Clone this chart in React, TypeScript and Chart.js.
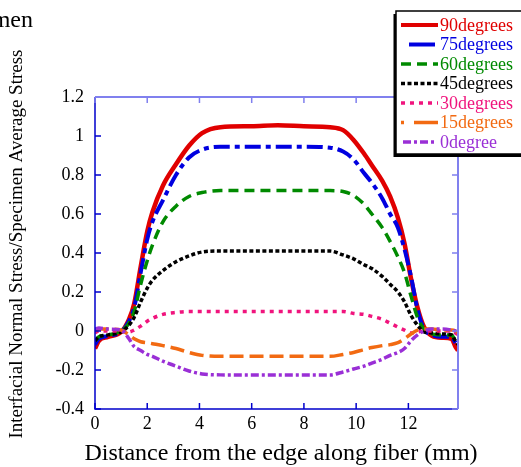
import React, { useEffect, useRef } from "react";
import { Chart, registerables } from "chart.js";

Chart.register(...registerables);

const distance = [0, 0.15, 0.5, 1.0, 1.3, 1.5, 1.75, 2.0, 2.2, 2.6, 3.1, 3.6, 4.1, 4.8, 6, 7, 8, 9, 9.5, 9.9, 10.3, 10.6, 11.0, 11.3, 11.6, 11.85, 12.1, 12.35, 12.6, 12.9, 13.3, 13.65, 13.8, 13.9];

const deg90 = [-0.09, -0.05, -0.03, -0.005, 0.06, 0.14, 0.33, 0.51, 0.61, 0.745, 0.855, 0.95, 1.015, 1.045, 1.05, 1.055, 1.05, 1.045, 1.03, 0.98, 0.91, 0.85, 0.77, 0.69, 0.58, 0.45, 0.27, 0.12, 0.02, -0.025, -0.035, -0.04, -0.08, -0.1];
const deg75 = [-0.07, -0.04, -0.025, -0.005, 0.05, 0.12, 0.3, 0.47, 0.56, 0.67, 0.8, 0.89, 0.93, 0.945, 0.945, 0.945, 0.945, 0.94, 0.92, 0.88, 0.81, 0.76, 0.68, 0.6, 0.53, 0.42, 0.28, 0.11, 0.01, -0.02, -0.03, -0.03, -0.06, -0.08];
const deg60 = [-0.05, -0.03, -0.02, 0.0, 0.04, 0.1, 0.24, 0.36, 0.44, 0.56, 0.64, 0.69, 0.71, 0.72, 0.72, 0.72, 0.72, 0.72, 0.715, 0.695, 0.65, 0.6, 0.53, 0.46, 0.38, 0.3, 0.18, 0.07, 0.01, -0.015, -0.02, -0.02, -0.05, -0.07];
const deg45 = [-0.05, -0.03, -0.02, -0.005, 0.03, 0.07, 0.15, 0.22, 0.26, 0.31, 0.355, 0.385, 0.405, 0.41, 0.41, 0.41, 0.41, 0.41, 0.39, 0.37, 0.34, 0.32, 0.28, 0.24, 0.2, 0.15, 0.08, 0.03, -0.005, -0.01, -0.015, -0.02, -0.05, -0.07];
const deg30 = [-0.01, 0.0, 0.0, 0.0, -0.005, 0.005, 0.025, 0.05, 0.065, 0.085, 0.095, 0.1, 0.1, 0.1, 0.1, 0.1, 0.1, 0.1, 0.1, 0.09, 0.085, 0.075, 0.06, 0.04, 0.02, 0.005, -0.01, -0.005, 0.0, 0.0, 0.0, 0.0, -0.01, -0.02];
const deg15 = [0.0, 0.01, 0.01, 0.005, -0.02, -0.04, -0.055, -0.06, -0.065, -0.075, -0.09, -0.11, -0.125, -0.13, -0.13, -0.13, -0.13, -0.13, -0.12, -0.11, -0.095, -0.085, -0.075, -0.07, -0.06, -0.04, -0.015, 0.005, 0.01, 0.01, 0.005, 0.005, 0.0, -0.01];
const deg0 = [0.01, 0.015, 0.01, 0.005, -0.04, -0.08, -0.1, -0.12, -0.13, -0.155, -0.18, -0.205, -0.22, -0.225, -0.225, -0.225, -0.225, -0.225, -0.21, -0.195, -0.18, -0.165, -0.145, -0.125, -0.11, -0.09, -0.05, -0.02, 0.0, 0.01, 0.01, 0.005, 0.0, -0.01];

const seriesNames = ["90degrees", "75degrees", "60degrees", "45degrees", "30degrees", "15degrees", "0degree"];
const xTickValues = [0, 2, 4, 6, 8, 10, 12];
const xTickLabels = ["0", "2", "4", "6", "8", "10", "12"];
const yTickValues = [-0.4, -0.2, 0, 0.2, 0.4, 0.6, 0.8, 1, 1.2];
const yTickLabels = ["-0.4", "-0.2", "0", "0.2", "0.4", "0.6", "0.8", "1", "1.2"];

const xTitle = "Distance from the edge along fiber (mm)";
const yTitle = "Interfacial Normal Stress/Specimen Average Stress";
const topTitle = "Specimen";

const seriesValues = [deg90, deg75, deg60, deg45, deg30, deg15, deg0];
const colors = ["#e00000", "#0000e0", "#008a00", "#000000", "#f0147d", "#f26a12", "#9a2fd6"];
const dashes: number[][] = [[], [16, 5, 5, 5], [10, 6], [4, 2.5], [4, 5], [14, 6], [8, 3, 3, 3]];
const widths = [4.5, 4, 3.5, 3.5, 3.5, 3.5, 3.5];
const legendDashes: number[][] = [[], [], [10, 6], [4, 2.5], [4, 5], [3, 10, 30, 6], [8, 3, 3, 3]];
const legendStart = [401, 409, 401, 401, 401, 401, 403];
const legendEnd = [438, 435, 438, 438, 438, 438, 434];

const FONT = '"Liberation Serif", "Times New Roman", serif';

const framePlugin = {
  id: "frame",
  afterDraw(chart: any) {
    const ctx = chart.ctx;
    const { left, right, top, bottom } = chart.chartArea;
    const xs = chart.scales.x;
    const ys = chart.scales.y;
    ctx.save();
    const dark = "#0000cc";
    const light = "#8080ee";
    const tl = 6;
    ctx.lineWidth = 1.5;
    ctx.strokeStyle = dark;
    ctx.beginPath();
    ctx.moveTo(left, top);
    ctx.lineTo(left, bottom);
    ctx.lineTo(right, bottom);
    ctx.stroke();
    ctx.beginPath();
    xTickValues.forEach((v) => {
      const px = xs.getPixelForValue(v);
      ctx.moveTo(px, bottom);
      ctx.lineTo(px, bottom - tl);
    });
    yTickValues.forEach((v) => {
      const py = ys.getPixelForValue(v);
      ctx.moveTo(left, py);
      ctx.lineTo(left + tl, py);
    });
    ctx.stroke();
    ctx.strokeStyle = light;
    ctx.lineWidth = 2;
    ctx.beginPath();
    ctx.moveTo(left, top);
    ctx.lineTo(right, top);
    ctx.lineTo(right, bottom);
    ctx.stroke();
    ctx.lineWidth = 1.5;
    ctx.beginPath();
    xTickValues.forEach((v) => {
      const px = xs.getPixelForValue(v);
      ctx.moveTo(px, top);
      ctx.lineTo(px, top + tl);
    });
    yTickValues.forEach((v) => {
      const py = ys.getPixelForValue(v);
      ctx.moveTo(right, py);
      ctx.lineTo(right - tl, py);
    });
    ctx.stroke();

    ctx.fillStyle = "#000";
    ctx.font = `24px ${FONT}`;
    ctx.textAlign = "center";
    ctx.textBaseline = "alphabetic";
    ctx.fillText(xTitle, 281, 460);

    ctx.font = `24px ${FONT}`;
    ctx.textAlign = "right";
    ctx.fillText(topTitle, 33, 27);

    ctx.save();
    ctx.translate(22, 244);
    ctx.rotate(-Math.PI / 2);
    ctx.font = `19px ${FONT}`;
    ctx.textAlign = "center";
    ctx.fillText(yTitle, 0, 0);
    ctx.restore();

    const bx = 396, by = 11, bw = 140, bh = 143;
    ctx.fillStyle = "#000";
    ctx.fillRect(bx - 2.5, by + 3, bw, bh);
    ctx.fillStyle = "#fff";
    ctx.fillRect(bx, by, bw, bh);
    ctx.strokeStyle = "#000";
    ctx.lineWidth = 1.5;
    ctx.strokeRect(bx, by, bw, bh);
    ctx.font = `18px ${FONT}`;
    ctx.textAlign = "left";
    ctx.textBaseline = "middle";
    seriesNames.forEach((name, i) => {
      const cy = 25 + i * 19.5;
      ctx.strokeStyle = colors[i];
      ctx.lineWidth = Math.min(widths[i], 4);
      ctx.setLineDash(legendDashes[i]);
      ctx.beginPath();
      ctx.moveTo(legendStart[i], cy);
      ctx.lineTo(legendEnd[i], cy);
      ctx.stroke();
      ctx.setLineDash([]);
      ctx.fillStyle = colors[i];
      ctx.fillText(name, 440, cy + 1);
    });
    ctx.restore();
  },
};

export default function App() {
  const ref = useRef<HTMLCanvasElement | null>(null);
  useEffect(() => {
    document.body.style.margin = "0";
    const canvas = ref.current;
    if (!canvas) return;
    const datasets = seriesNames.map((name, i) => ({
      label: name,
      data: distance.map((x, j) => ({ x, y: seriesValues[i][j] })),
      borderColor: colors[i],
      backgroundColor: colors[i],
      borderWidth: widths[i],
      borderDash: dashes[i],
      pointRadius: 0,
      fill: false,
      cubicInterpolationMode: "monotone" as const,
      borderCapStyle: "butt" as const,
    }));
    const chart = new Chart(canvas, {
      type: "line",
      data: { datasets: datasets.slice().reverse() },
      options: {
        animation: false,
        responsive: false,
        maintainAspectRatio: false,
        layout: { padding: { top: 97, right: 63, left: 0, bottom: 0 } },
        plugins: { legend: { display: false }, tooltip: { enabled: false }, title: { display: false } },
        scales: {
          x: {
            type: "linear",
            min: 0,
            max: 13.9,
            afterBuildTicks: (s: any) => { s.ticks = xTickValues.map((v) => ({ value: v })); },
            afterFit: (s: any) => { s.height = 58; },
            grid: { display: false, drawTicks: false },
            border: { display: false },
            ticks: {
              padding: 4,
              color: "#000",
              font: { family: FONT, size: 18 },
              maxRotation: 0,
              callback: (v: any) => { const k = xTickValues.indexOf(Number(v)); return k >= 0 ? xTickLabels[k] : ""; },
            },
          },
          y: {
            type: "linear",
            min: -0.4,
            max: 1.2,
            afterBuildTicks: (s: any) => { s.ticks = yTickValues.map((v) => ({ value: v })); },
            afterFit: (s: any) => { s.width = 95; },
            grid: { display: false, drawTicks: false },
            border: { display: false },
            ticks: {
              padding: 11,
              color: "#000",
              font: { family: FONT, size: 18 },
              callback: (v: any) => {
                const k = yTickValues.findIndex((t) => Math.abs(t - Number(v)) < 1e-6);
                return k >= 0 ? yTickLabels[k] : "";
              },
            },
          },
        },
      },
      plugins: [framePlugin],
    });
    return () => chart.destroy();
  }, []);
  return (
    <div style={{ position: "absolute", left: 0, top: 0, width: 521, height: 467 }}>
      <canvas ref={ref} width={521} height={467} style={{ width: 521, height: 467, display: "block" }} />
    </div>
  );
}
